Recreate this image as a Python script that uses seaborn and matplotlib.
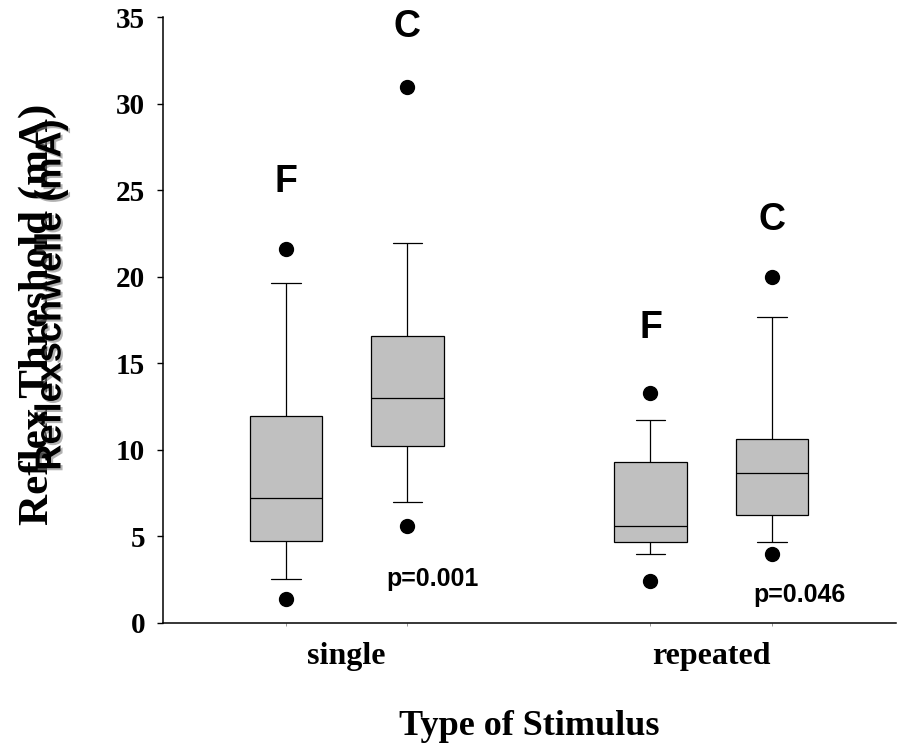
import numpy as np
import pandas as pd
import matplotlib
matplotlib.use("Agg")
import matplotlib.pyplot as plt
import matplotlib.patheffects as pe
import seaborn as sns

# ---- data ----
stimuli = ["single", "repeated"]
groups = ["F", "C"]
# order: single-F, single-C, repeated-F, repeated-C
box_stim = ["single", "single", "repeated", "repeated"]
box_group = ["F", "C", "F", "C"]
q1 = [4.74, 10.24, 4.65, 6.23]
median = [7.23, 13.0, 5.57, 8.66]
q3 = [11.97, 16.6, 9.31, 10.64]
whisker_lo = [2.54, 6.96, 3.96, 4.65]
whisker_hi = [19.63, 21.98, 11.74, 17.66]
outlier_lo = [1.39, 5.59, 2.41, 3.95]
outlier_hi = [21.6, 31.0, 13.3, 20.01]

group_label_y = [24.9, 33.85, 16.45, 22.7]   # baseline of the F / C letters
p_texts = ["p=0.001", "p=0.046"]
p_text_y = [2.13, 1.21]
yticks = [0, 5, 10, 15, 20, 25, 30, 35]

# Build per-box value sets that reproduce the shown box statistics
rows = []
for i in range(4):
    vals = [outlier_lo[i], whisker_lo[i], q1[i], q1[i], median[i],
            q3[i], q3[i], whisker_hi[i], outlier_hi[i]]
    for v in vals:
        rows.append({"stimulus": box_stim[i], "group": box_group[i], "value": v})
df = pd.DataFrame(rows)

# ---- figure ----
sns.set_theme(style="white")
plt.rcParams.update({"text.color": "black", "axes.labelcolor": "black",
                     "xtick.color": "black", "ytick.color": "black"})
SERIF = "Liberation Serif"
SANS = "Liberation Sans"

fig = plt.figure(figsize=(8.99, 7.5), dpi=100)
ax = fig.add_axes([0.1813, 0.1697, 0.8154, 0.807])

sns.boxplot(data=df, x="stimulus", y="value", hue="group", order=stimuli,
            hue_order=groups, palette=["#c0c0c0", "#c0c0c0"], saturation=1,
            width=2/3, gap=0.4, whis=(12.5, 87.5), linecolor="black",
            linewidth=0.9, fliersize=10, capwidths=0.08,
            flierprops=dict(marker="o", markerfacecolor="black",
                            markeredgecolor="black"),
            legend=False, ax=ax)

ax.set_ylim(0, 35)
ax.set_xlim(-0.504, 1.507)
ax.set_yticks(yticks)
ax.set_yticklabels([str(t) for t in yticks], fontfamily=SERIF,
                   fontweight="bold", fontsize=21, color="black")
ax.set_xticks(range(len(stimuli)))
ax.set_xticklabels(stimuli, fontfamily=SERIF, fontweight="bold", fontsize=23,
                   color="black")
offsets = [-1/6, 1/6]
ax.set_xticks([k + o for k in range(len(stimuli)) for o in offsets], minor=True)
ax.tick_params(axis="y", which="major", direction="out", length=4.3, width=1.0,
               color="black", pad=8.6, left=True)
ax.tick_params(axis="x", which="major", length=0, pad=14)
ax.tick_params(axis="x", which="minor", direction="out", length=2, width=0.6,
               color="#888888", bottom=True)

for side in ["top", "right"]:
    ax.spines[side].set_visible(False)
for side in ["left", "bottom"]:
    ax.spines[side].set_color("black")
    ax.spines[side].set_linewidth(1.1)

ax.set_xlabel("Type of Stimulus", fontfamily=SERIF, fontweight="bold",
              fontsize=26, labelpad=28, color="black")
ax.set_ylabel("")

# F / C labels above boxes
for i in range(4):
    xpos = stimuli.index(box_stim[i]) + offsets[groups.index(box_group[i])]
    ax.text(xpos, group_label_y[i], box_group[i], ha="center", va="baseline",
            fontfamily=SANS, fontweight="bold", fontsize=27, color="black",
            clip_on=False)

# p-values
p_x_offset = [0.236, 0.241]
for k, (t, yv) in enumerate(zip(p_texts, p_text_y)):
    ax.text(k + p_x_offset[k], yv, t, ha="center", va="baseline",
            fontfamily=SANS, fontweight="bold", fontsize=18, color="black")

# overlapping y-axis titles (English and German), as in the reference
fig.text(0.0423, 0.5813, "Reflex Threshold (mA)", rotation=90, ha="center",
         va="center", fontfamily=SERIF, fontweight="bold", fontsize=31,
         color="black")
fig.text(0.0567, 0.6067, "Reflexschwelle (mA)", rotation=90, ha="center",
         va="center", fontfamily=SANS, fontweight="bold", fontsize=26,
         color="black",
         path_effects=[pe.SimplePatchShadow(offset=(1.5, -1.5),
                                            shadow_rgbFace="gray", alpha=0.6),
                       pe.Normal()])

fig.savefig("out.png", dpi=100)
